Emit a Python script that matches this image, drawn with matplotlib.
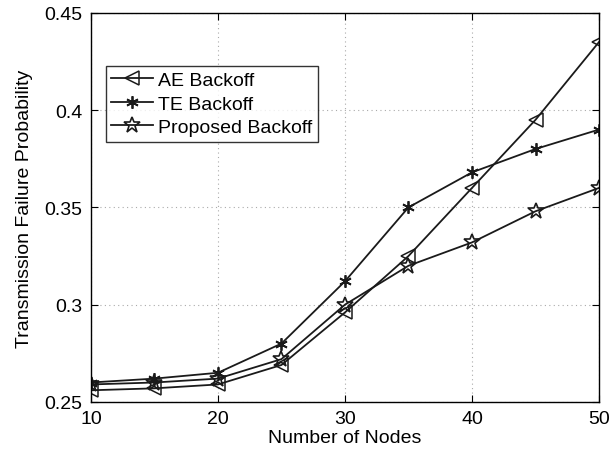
import numpy as np
import matplotlib
matplotlib.use("Agg")
from matplotlib import pyplot as plt

plt.rcParams['font.family'] = ['Liberation Sans', 'DejaVu Sans']

# data
nodes = [10, 15, 20, 25, 30, 35, 40, 45, 50]
ae_backoff = [0.256, 0.257, 0.259, 0.269, 0.296, 0.325, 0.360, 0.395, 0.435]
te_backoff = [0.260, 0.262, 0.265, 0.280, 0.312, 0.350, 0.368, 0.380, 0.390]
proposed_backoff = [0.259, 0.260, 0.262, 0.272, 0.300, 0.320, 0.332, 0.348, 0.360]

fig = plt.figure(figsize=(6.1, 4.6), dpi=100)
ax = fig.add_axes([0.149, 0.124, 0.833, 0.846])

line_kw = dict(color='#1a1a1a', linewidth=1.3, markerfacecolor='none',
               markeredgecolor='#1a1a1a')
ax.plot(nodes, ae_backoff, marker='<', markersize=10, markeredgewidth=1.1,
        label='AE Backoff', **line_kw)
ax.plot(nodes, te_backoff, marker=(6, 2, 0), markersize=9, markeredgewidth=1.3,
        label='TE Backoff', **line_kw)
ax.plot(nodes, proposed_backoff, marker='*', markersize=12, markeredgewidth=1.2,
        label='Proposed Backoff', **line_kw)

ax.set_xlim(10, 50)
ax.set_ylim(0.25, 0.45)
ax.set_xticks([10, 20, 30, 40, 50])
ax.set_yticks([0.25, 0.3, 0.35, 0.4, 0.45])
ax.set_yticklabels(['0.25', '0.3', '0.35', '0.4', '0.45'])
ax.tick_params(direction='in', top=True, right=True, labelsize=14, length=5,
               pad=6)
ax.grid(True, linestyle=(0, (1, 3)), color='#aaaaaa', linewidth=0.8)
for s in ax.spines.values():
    s.set_linewidth(1.0)

ax.set_xlabel('Number of Nodes', fontsize=14, labelpad=1)
ax.set_ylabel('Transmission Failure Probability', fontsize=14, labelpad=8)

leg = ax.legend(loc='upper left', bbox_to_anchor=(0.029, 0.864), fontsize=14,
                fancybox=False, edgecolor='black', handlelength=2.15,
                handletextpad=0.25, borderpad=0.3, labelspacing=0.3,
                borderaxespad=0.0)
leg.get_frame().set_linewidth(1.0)

plt.savefig('out.png', dpi=100)
